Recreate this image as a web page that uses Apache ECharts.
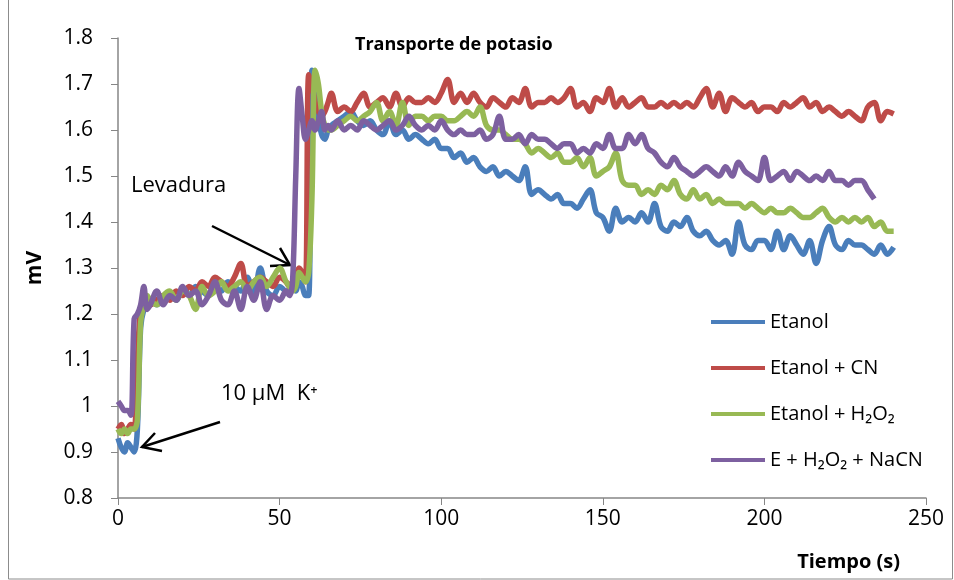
<!DOCTYPE html>
<html>
<head>
<meta charset="utf-8">
<script src="https://cdn.jsdelivr.net/npm/echarts@6/dist/echarts.min.js"></script>
<style>
  html, body { margin: 0; padding: 0; background: #fff; }
  #chart { width: 954px; height: 580px; }
</style>
</head>
<body>
<div id="chart"></div>
<script>
// tiempo (s)
var time = [0,1,2,3,4,5,6,7,8,9,10,
  12,14,16,18,20,22,24,26,28,30,32,34,36,38,40,42,44,46,48,50,52,
  53,54,55,56,57,58,59,60,61,62,63,64,65,66,
  68,70,72,74,76,78,80,82,84,86,
  88,90,92,94,96,98,100,102,104,106,
  108,110,112,114,116,118,120,122,124,126,
  128,130,132,134,136,138,140,142,144,146,
  148,150,152,154,156,158,160,162,164,166,
  168,170,172,174,176,178,180,182,184,186,
  188,190,192,194,196,198,200,202,204,206,
  208,210,212,214,216,218,220,222,224,226,
  228,230,232,234,236,238,240];

var etanol = [0.93,0.91,0.90,0.92,0.91,0.90,0.95,1.17,1.21,1.22,1.23,
  1.22,1.23,1.24,1.23,1.25,1.24,1.26,1.25,1.24,1.26,1.25,1.27,1.26,1.25,1.28,1.24,1.30,1.25,1.24,1.26,1.25,
  1.25,1.26,1.25,1.27,1.26,1.24,1.24,1.73,1.70,1.63,1.59,1.58,1.60,1.61,
  1.62,1.63,1.64,1.62,1.61,1.62,1.60,1.59,1.62,1.59,
  1.60,1.58,1.59,1.58,1.57,1.58,1.56,1.56,1.54,1.55,
  1.53,1.54,1.52,1.51,1.52,1.50,1.51,1.50,1.49,1.52,
  1.46,1.47,1.46,1.45,1.46,1.44,1.44,1.43,1.45,1.47,
  1.42,1.41,1.38,1.43,1.40,1.41,1.40,1.42,1.40,1.44,
  1.39,1.38,1.40,1.39,1.41,1.38,1.37,1.38,1.36,1.35,
  1.36,1.33,1.40,1.35,1.34,1.36,1.36,1.34,1.38,1.34,
  1.37,1.35,1.33,1.36,1.31,1.36,1.39,1.35,1.34,1.36,
  1.35,1.35,1.34,1.33,1.35,1.33,1.345];

var etanolCN = [0.95,0.96,0.94,0.95,0.96,0.95,1.10,1.21,1.22,1.23,1.22,
  1.23,1.24,1.23,1.25,1.24,1.26,1.25,1.27,1.26,1.28,1.27,1.26,1.28,1.31,1.26,1.27,1.28,1.27,1.26,1.28,1.27,
  1.26,1.27,1.28,1.30,1.29,1.27,1.72,1.70,1.66,1.64,1.63,1.64,1.66,1.68,
  1.64,1.65,1.64,1.66,1.68,1.65,1.66,1.67,1.65,1.68,
  1.65,1.67,1.66,1.66,1.67,1.66,1.68,1.71,1.66,1.68,
  1.66,1.68,1.66,1.65,1.67,1.66,1.65,1.67,1.66,1.69,
  1.65,1.66,1.66,1.67,1.66,1.67,1.69,1.65,1.66,1.64,
  1.67,1.66,1.69,1.65,1.67,1.65,1.66,1.67,1.65,1.65,
  1.66,1.65,1.66,1.65,1.66,1.65,1.67,1.69,1.65,1.68,
  1.64,1.67,1.66,1.65,1.66,1.64,1.65,1.65,1.64,1.66,
  1.65,1.66,1.67,1.65,1.66,1.64,1.65,1.64,1.63,1.64,
  1.63,1.62,1.65,1.66,1.62,1.64,1.635];

var etanolH2O2 = [0.95,0.94,0.95,0.94,0.95,0.95,0.97,1.18,1.22,1.24,1.23,
  1.22,1.24,1.25,1.23,1.25,1.24,1.21,1.26,1.24,1.25,1.27,1.25,1.26,1.27,1.25,1.27,1.28,1.26,1.28,1.30,1.27,
  1.26,1.25,1.26,1.29,1.28,1.27,1.29,1.45,1.73,1.70,1.64,1.61,1.60,1.60,
  1.61,1.62,1.63,1.62,1.63,1.64,1.66,1.62,1.64,1.61,
  1.66,1.61,1.63,1.63,1.62,1.63,1.63,1.62,1.62,1.63,
  1.64,1.63,1.65,1.61,1.60,1.60,1.59,1.58,1.58,1.57,
  1.55,1.56,1.55,1.54,1.55,1.53,1.53,1.54,1.52,1.54,
  1.50,1.51,1.52,1.55,1.49,1.48,1.48,1.46,1.47,1.46,
  1.48,1.47,1.49,1.46,1.45,1.47,1.45,1.46,1.44,1.45,
  1.44,1.44,1.44,1.43,1.44,1.43,1.42,1.43,1.42,1.42,
  1.43,1.42,1.41,1.41,1.42,1.43,1.41,1.40,1.41,1.40,
  1.41,1.40,1.41,1.39,1.40,1.38,1.38];

var eH2O2NaCN = [1.01,1.00,0.99,0.99,0.98,1.19,1.20,1.22,1.26,1.21,1.22,
  1.25,1.22,1.24,1.23,1.26,1.24,1.25,1.22,1.24,1.27,1.23,1.22,1.25,1.21,1.26,1.23,1.27,1.21,1.24,1.23,1.25,
  1.24,1.27,1.50,1.69,1.63,1.58,1.60,1.62,1.60,1.62,1.64,1.60,1.61,1.60,
  1.62,1.60,1.61,1.60,1.62,1.61,1.60,1.61,1.62,1.60,
  1.61,1.63,1.61,1.60,1.61,1.60,1.62,1.60,1.59,1.60,
  1.59,1.59,1.60,1.58,1.59,1.63,1.58,1.58,1.59,1.57,
  1.59,1.58,1.58,1.57,1.56,1.57,1.57,1.55,1.56,1.55,
  1.57,1.56,1.59,1.56,1.56,1.59,1.57,1.59,1.56,1.55,
  1.53,1.52,1.54,1.52,1.51,1.50,1.51,1.52,1.51,1.50,
  1.52,1.50,1.53,1.51,1.50,1.49,1.54,1.49,1.50,1.51,
  1.49,1.51,1.50,1.49,1.50,1.49,1.51,1.49,1.49,1.48,
  1.49,1.49,1.47,1.45,null,null,null];

var names = ['Etanol', 'Etanol + CN', 'Etanol + H₂O₂', 'E + H₂O₂ + NaCN'];
var colors = ['#4A7EBB', '#BE4B48', '#98B954', '#7D60A0'];
var values = [etanol, etanolCN, etanolH2O2, eH2O2NaCN];

function pairs(vals) {
  var out = [];
  for (var i = 0; i < time.length; i++) {
    if (vals[i] != null) out.push([time[i], vals[i]]);
  }
  return out;
}

var font = 'Open Sans';
var axisColor = '#868686';

var myChart = echarts.init(document.getElementById('chart'));
var option = {
  animation: false,
  textStyle: { fontFamily: font },
  title: {
    text: 'Transporte de potasio',
    left: 350,
    top: 31,
    textStyle: { fontFamily: font, fontSize: 18, fontWeight: 'bold', color: '#000' }
  },
  legend: {
    orient: 'vertical',
    left: 706,
    top: 306,
    itemWidth: 54,
    itemHeight: 4,
    itemGap: 24,
    icon: 'rect',
    data: names,
    textStyle: { fontFamily: font, fontSize: 20, color: '#000', lineHeight: 22 }
  },
  grid: { left: 118, right: 28, top: 38, bottom: 82 },
  xAxis: {
    type: 'value',
    min: 0,
    max: 250,
    interval: 50,
    name: 'Tiempo (s)',
    nameLocation: 'end',
    nameGap: 0,
    nameTextStyle: {
      fontFamily: font, fontSize: 20, fontWeight: 'bold', color: '#000',
      align: 'right', verticalAlign: 'top', padding: [54, 26, 0, 0]
    },
    axisLine: { lineStyle: { color: axisColor, width: 1.5 } },
    axisTick: { inside: false, length: 7, lineStyle: { color: axisColor } },
    axisLabel: { fontFamily: font, fontSize: 21, color: '#000', margin: 11 },
    splitLine: { show: false }
  },
  yAxis: {
    type: 'value',
    min: 0.8,
    max: 1.8,
    interval: 0.1,
    name: 'mV',
    nameLocation: 'middle',
    nameRotate: 90,
    nameGap: 72,
    nameTextStyle: { fontFamily: font, fontSize: 21, fontWeight: 'bold', color: '#000' },
    axisLine: { show: true, lineStyle: { color: axisColor, width: 1.5 } },
    axisTick: { show: true, inside: false, length: 7, lineStyle: { color: axisColor } },
    axisLabel: {
      fontFamily: font, fontSize: 21, color: '#000', margin: 25,
      formatter: function (v) { return String(Math.round(v * 10) / 10); }
    },
    splitLine: { show: false }
  },
  series: values.map(function (vals, i) {
    return {
      name: names[i],
      type: 'line',
      data: pairs(vals),
      showSymbol: false,
      smooth: 0.35,
      itemStyle: { color: colors[i] },
      lineStyle: { color: colors[i], width: 5.5 }
    };
  }),
  graphic: [
    {
      type: 'rect',
      shape: { x: 8.5, y: -1, width: 944, height: 580 },
      style: { fill: null, stroke: '#8c8c8c', lineWidth: 1 },
      silent: true
    },
    {
      type: 'text', left: 131, top: 175,
      style: { text: 'Levadura', font: '22px "Open Sans"', fill: '#000' }
    },
    {
      type: 'polyline',
      shape: { points: [[212, 226], [290, 265]] },
      style: { stroke: '#000', lineWidth: 2.5, fill: null }
    },
    {
      type: 'polyline',
      shape: { points: [[280, 248], [290, 265], [270, 266]] },
      style: { stroke: '#000', lineWidth: 2.5, fill: null }
    },
    {
      type: 'text', left: 221, top: 383,
      style: { text: '10 µM  K⁺', font: '22px "Open Sans"', fill: '#000' }
    },
    {
      type: 'polyline',
      shape: { points: [[220, 422], [142, 447]] },
      style: { stroke: '#000', lineWidth: 2.5, fill: null }
    },
    {
      type: 'polyline',
      shape: { points: [[155, 433], [142, 447], [162, 451]] },
      style: { stroke: '#000', lineWidth: 2.5, fill: null }
    }
  ]
};
myChart.setOption(option);
</script>
</body>
</html>
